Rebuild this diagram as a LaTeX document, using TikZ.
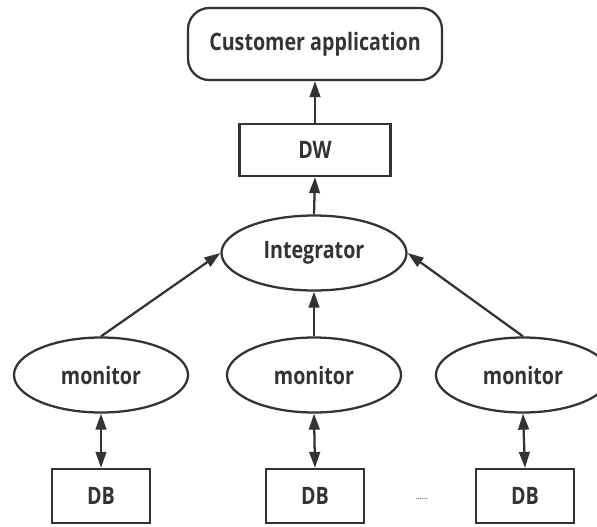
\documentclass[tikz,border=0pt]{standalone}
\usepackage{fontspec}
\setmainfont{Open Sans}[FakeStretch=0.82]
\usetikzlibrary{shapes.geometric,arrows.meta}
\definecolor{ink}{HTML}{333333}
\begin{document}
\begin{tikzpicture}[x=0.75pt,y=-0.75pt,
  every node/.style={draw=ink,line width=1.7pt,inner sep=0pt,text=ink,font=\fontsize{18pt}{20pt}\selectfont\bfseries},
  roundbox/.style={rectangle,rounded corners=16pt,minimum width=190.5pt,minimum height=54pt},
  sqbox/.style={rectangle,minimum width=113.25pt,minimum height=39pt},
  dbbox/.style={rectangle,minimum width=73.5pt,minimum height=40.5pt},
  integ/.style={ellipse,minimum width=138.75pt,minimum height=56.25pt},
  mon/.style={ellipse,minimum width=130.5pt,minimum height=56.25pt},
  tip/.tip={Triangle[length=12pt,width=8pt]},
  conn/.style={draw=ink,line width=1.7pt,-tip},
  biconn/.style={draw=ink,line width=1.7pt,tip-tip}]
\useasboundingbox (0,0) rectangle (597,526);
\node[roundbox] (cust) at (315,44) {Customer application};
\node[sqbox] (dw) at (315,150) {DW};
\node[integ] (int) at (314,253) {Integrator};
\node[mon] (m1) at (101,375) {monitor};
\node[mon] (m2) at (314,375) {monitor};
\node[mon] (m3) at (523,375) {monitor};
\node[dbbox] (d1) at (101,496) {DB};
\node[dbbox] (d2) at (315,496) {DB};
\node[dbbox] (d3) at (525,496) {DB};
\node[draw=none,font=\fontsize{7pt}{8pt}\selectfont] (dots) at (422,499) {......};
\draw[conn] (dw.north) -- (cust.south);
\draw[conn] (int.north) -- (dw.south);
\draw[conn] (m1.north) -- (int.west);
\draw[conn] (m2.north) -- (int.south);
\draw[conn] (m3.north) -- (int.east);
\draw[biconn] (m1.south) -- (d1.north);
\draw[biconn] (m2.south) -- (d2.north);
\draw[biconn] (m3.south) -- (d3.north);
\end{tikzpicture}
\end{document}
